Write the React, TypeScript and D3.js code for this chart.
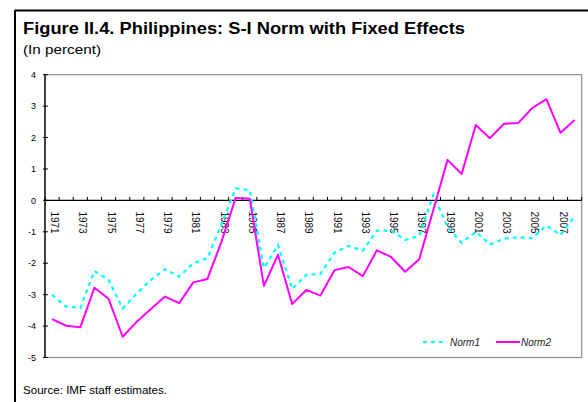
import * as d3 from 'd3';

// years on the category axis, 1971..2008
const years: string[] = [
  '1971', '1972', '1973', '1974', '1975', '1976', '1977', '1978', '1979', '1980',
  '1981', '1982', '1983', '1984', '1985', '1986', '1987', '1988', '1989', '1990',
  '1991', '1992', '1993', '1994', '1995', '1996', '1997', '1998', '1999', '2000',
  '2001', '2002', '2003', '2004', '2005', '2006', '2007', '2008',
];

const norm1: number[] = [
  -3.01, -3.38, -3.42, -2.25, -2.53, -3.44, -2.96, -2.53, -2.19, -2.43,
  -2.0, -1.84, -0.75, 0.38, 0.33, -2.15, -1.42, -2.82, -2.37, -2.34,
  -1.66, -1.45, -1.6, -0.96, -0.96, -1.26, -1.13, 0.18, -0.85, -1.35,
  -1.0, -1.4, -1.22, -1.17, -1.2, -0.8, -1.1, -0.5,
];

const norm2: number[] = [
  -3.78, -3.99, -4.04, -2.78, -3.13, -4.34, -3.86, -3.46, -3.06, -3.27,
  -2.61, -2.5, -1.31, 0.08, 0.05, -2.72, -1.73, -3.3, -2.85, -3.03,
  -2.22, -2.12, -2.41, -1.59, -1.8, -2.27, -1.87, -0.3, 1.29, 0.84,
  2.4, 1.98, 2.44, 2.46, 2.94, 3.22, 2.15, 2.56,
];

const yTicks: number[] = [-5, -4, -3, -2, -1, 0, 1, 2, 3, 4];
const labelYears: string[] = years.filter((_, i) => i % 2 === 0);

const W = 588, H = 402;
const plot = { left: 45, right: 581.7, top: 74.7, bottom: 357.5 };
const FONT = '"Liberation Sans", Arial, sans-serif';

export default function App() {
  const x = d3.scaleBand<string>().domain(years).range([plot.left, plot.right]);
  const y = d3.scaleLinear().domain([-5, 4]).range([plot.bottom, plot.top]);
  const cx = (yr: string) => (x(yr) ?? 0) + x.bandwidth() / 2;

  const line = d3.line<number>()
    .x((_, i) => cx(years[i]))
    .y(d => y(d));

  const zeroY = y(0);

  return (
    <svg width={W} height={H} style={{ position: 'absolute', left: 0, top: 0, background: '#fff' }} fontFamily={FONT}>
      {/* outer frame */}
      <line x1={15} x2={W} y1={10.5} y2={10.5} stroke="#000" strokeWidth={2} />
      <line x1={15} x2={15} y1={10} y2={H} stroke="#000" strokeWidth={2} />

      <text x={23} y={33.5} fontSize={16} fontWeight="bold" textLength={442} lengthAdjust="spacingAndGlyphs">
        Figure II.4. Philippines: S-I Norm with Fixed Effects
      </text>
      <text x={23} y={54} fontSize={13} textLength={78} lengthAdjust="spacingAndGlyphs">(In percent)</text>

      {/* plot area border */}
      <rect x={plot.left} y={plot.top} width={plot.right - plot.left} height={plot.bottom - plot.top}
        fill="none" stroke="#8c8c8c" strokeWidth={1.2} />
      <line x1={plot.left} x2={plot.left} y1={plot.top} y2={plot.bottom} stroke="#000" strokeWidth={1.3} />

      {/* y axis ticks + labels */}
      {yTicks.map(t => (
        <g key={t}>
          <line x1={43} x2={48} y1={y(t)} y2={y(t)} stroke="#000" strokeWidth={1} />
          <text x={36} y={y(t)} dy="0.35em" textAnchor="end" fontSize={9}>{t}</text>
        </g>
      ))}

      {/* zero axis with category ticks */}
      <line x1={plot.left} x2={plot.right} y1={zeroY} y2={zeroY} stroke="#000" strokeWidth={1.3} />
      {years.concat(['end']).map((yr, i) => {
        const px = plot.left + i * x.step();
        return <line key={yr} x1={px} x2={px} y1={zeroY - 3.5} y2={zeroY} stroke="#000" strokeWidth={1} />;
      })}
      {labelYears.map(yr => (
        <text key={yr} transform={`translate(${cx(yr) + 2.5},${zeroY + 11}) rotate(90)`}
          dominantBaseline="central" fontSize={10} fill="#111">{yr}</text>
      ))}

      {/* series */}
      <path d={line(norm1) ?? ''} fill="none" stroke="#00ffff" strokeWidth={2.2} strokeDasharray="4,4" />
      <path d={line(norm2) ?? ''} fill="none" stroke="#ff00ff" strokeWidth={2} strokeLinejoin="round" />

      {/* legend */}
      <line x1={423} x2={447} y1={342} y2={342} stroke="#00ffff" strokeWidth={2.2} strokeDasharray="4,4" />
      <text x={450} y={345.5} fontSize={10} fontStyle="italic" fill="#222">Norm1</text>
      <line x1={496} x2={520} y1={342} y2={342} stroke="#ff00ff" strokeWidth={2} />
      <text x={521} y={345.5} fontSize={10} fontStyle="italic" fill="#222">Norm2</text>

      <text x={23} y={394} fontSize={11.5} textLength={144} lengthAdjust="spacingAndGlyphs">Source: IMF staff estimates.</text>
    </svg>
  );
}
